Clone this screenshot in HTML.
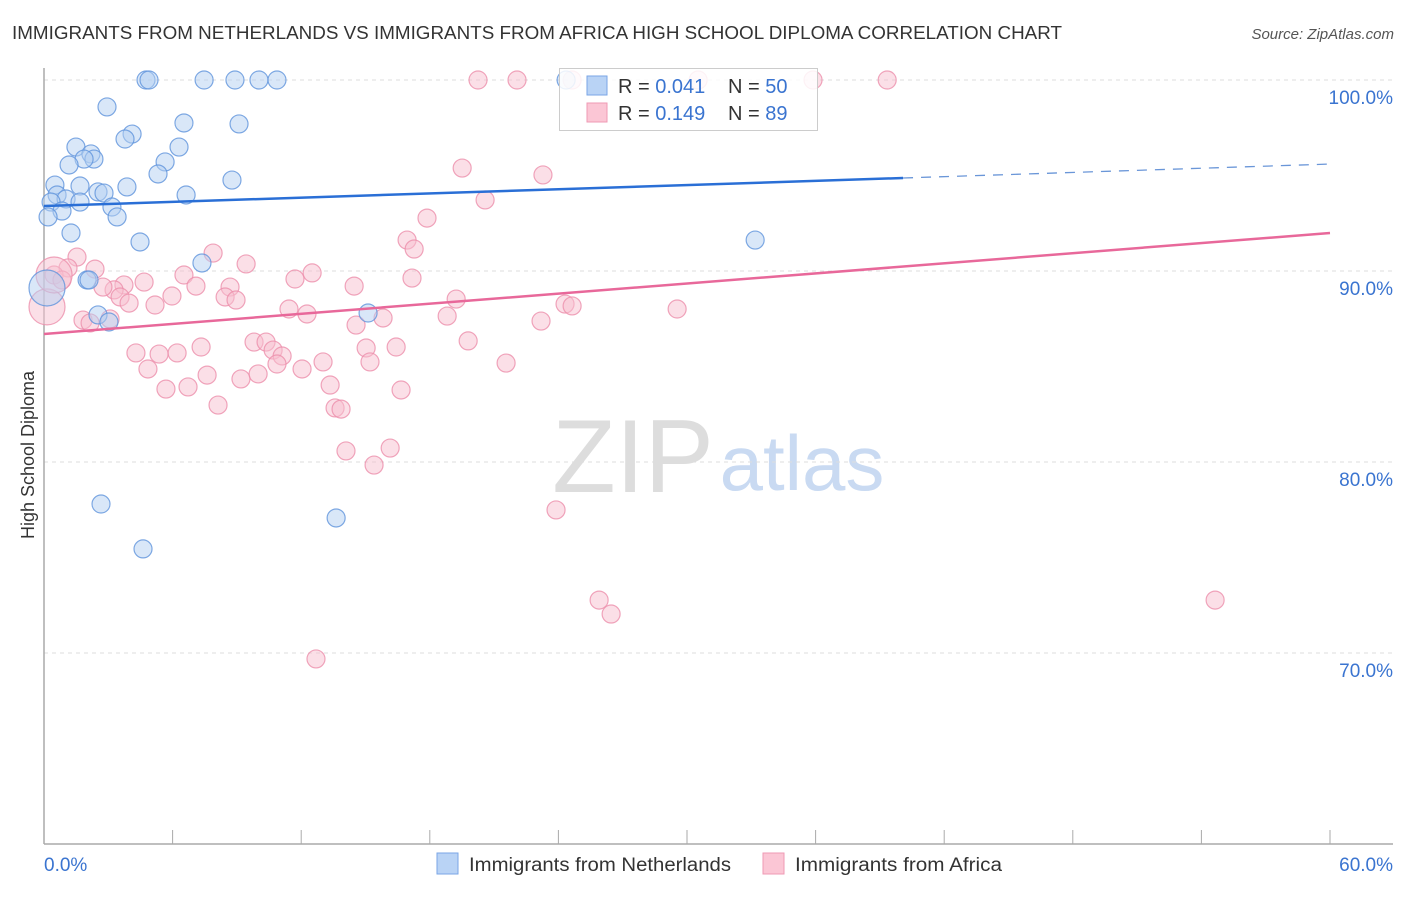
<!DOCTYPE html>
<html><head><meta charset="utf-8"><style>
body{margin:0;background:#fff;font-family:"Liberation Sans",sans-serif;}
svg text{font-family:"Liberation Sans",sans-serif;}
</style></head><body>
<svg id="chart" width="1406" height="892" xmlns="http://www.w3.org/2000/svg">
<text x="12" y="39" font-size="18" fill="#333" textLength="1050" lengthAdjust="spacingAndGlyphs">IMMIGRANTS FROM NETHERLANDS VS IMMIGRANTS FROM AFRICA HIGH SCHOOL DIPLOMA CORRELATION CHART</text>
<text x="1394" y="39" font-size="15" fill="#555" font-style="italic" text-anchor="end">Source: ZipAtlas.com</text>
<g>
<text x="633" y="492" font-size="104" fill="#ddd" font-family="Liberation Serif" text-anchor="middle">ZIP</text>
<text x="802" y="490" font-size="78" fill="#c9daf2" text-anchor="middle">atlas</text>
</g>
<g id="grid"></g><g id="axes"></g><g id="marks"></g><g id="trends"></g>
<g>
<rect x="559.5" y="68.5" width="258" height="62" fill="#fff" fill-opacity="0.85" stroke="#ccc"/>
<rect x="587" y="76" width="20" height="19" fill="#b9d3f5" stroke="#7aa6e6"/>
<rect x="587" y="103" width="20" height="19" fill="#fbc6d5" stroke="#ef9ab4"/>
<text x="618" y="93" font-size="20" fill="#333">R = <tspan fill="#3a74d0">0.041</tspan></text>
<text x="728" y="93" font-size="20" fill="#333">N = <tspan fill="#3a74d0">50</tspan></text>
<text x="618" y="120" font-size="20" fill="#333">R =  <tspan fill="#3a74d0">0.149</tspan></text>
<text x="728" y="120" font-size="20" fill="#333">N =  <tspan fill="#3a74d0">89</tspan></text>
</g>
<text transform="translate(34,455) rotate(-90)" font-size="18" fill="#333" text-anchor="middle">High School Diploma</text>
<g>
<rect x="437" y="853" width="21" height="21" fill="#b9d3f5" stroke="#7aa6e6"/>
<text x="469" y="871" font-size="19" fill="#333" textLength="262" lengthAdjust="spacingAndGlyphs">Immigrants from Netherlands</text>
<rect x="763" y="853" width="21" height="21" fill="#fbc6d5" stroke="#ef9ab4"/>
<text x="795" y="871" font-size="19" fill="#333" textLength="207" lengthAdjust="spacingAndGlyphs">Immigrants from Africa</text>
</g>
</svg>
<script>
const yTicks=[100,90,80,70];
const yTickLabels=["100.0%","90.0%","80.0%","70.0%"];
const xEndLabels=["0.0%","60.0%"];
const blueX=[4.76,4.9,7.47,8.91,10.03,10.87,24.36,2.94,4.11,3.78,6.53,9.10,1.49,2.19,2.33,1.87,6.30,5.65,1.17,5.32,8.77,0.51,1.68,3.87,2.52,2.80,6.63,0.61,1.03,1.68,0.33,3.17,0.84,3.41,0.19,1.26,4.48,33.18,7.37,2.01,2.10,0.14,15.12,2.52,3.03,2.66,13.63,4.62];
const blueY=[100,100,100,100,100,100,100,98.59,97.17,96.91,97.75,97.70,96.49,96.13,95.86,95.86,96.49,95.71,95.55,95.08,94.76,94.50,94.45,94.40,94.14,94.08,93.98,93.98,93.77,93.61,93.61,93.35,93.14,92.83,92.83,91.99,91.52,91.62,90.42,89.53,89.53,89.11,87.80,87.70,87.33,77.80,77.07,75.45];
const blueBig=[0,0,0,0,0,0,0,0,0,0,0,0,0,0,0,0,0,0,0,0,0,0,0,0,0,0,0,0,0,0,0,0,0,0,0,0,0,0,0,0,0,1,0,0,0,0,0,0];
const pinkX=[20.25,22.07,24.64,30.52,35.88,39.34,19.51,23.28,20.58,17.87,16.94,17.27,7.89,9.43,1.54,1.12,2.38,6.53,12.51,11.71,17.17,0.47,0.84,4.67,3.73,3.27,7.09,8.68,14.47,2.75,3.55,5.18,3.97,5.97,8.45,8.96,19.23,11.43,12.27,18.81,23.19,24.31,24.64,29.54,15.82,14.56,1.82,2.15,3.08,7.33,9.80,10.36,10.69,11.11,15.03,16.43,19.79,4.29,5.37,6.21,10.87,13.02,15.21,21.56,4.85,12.04,7.61,9.19,9.99,5.69,6.72,13.35,16.66,8.12,13.58,13.86,14.09,15.40,16.15,23.89,25.90,26.46,54.64,12.69,0.14,0.47];
const pinkY=[100,100,100,100,100,100,95.39,95.03,93.72,92.77,91.62,91.15,90.94,90.37,90.73,90.16,90.10,89.79,89.90,89.58,89.63,89.79,89.53,89.42,89.27,89.01,89.21,89.16,89.21,89.16,88.64,88.22,88.32,88.69,88.64,88.48,88.53,88.01,87.75,87.64,87.38,88.27,88.17,88.01,87.54,87.17,87.43,87.28,87.49,86.02,86.28,86.28,85.86,85.55,85.97,86.02,86.34,85.71,85.65,85.71,85.13,85.24,85.24,85.18,84.87,84.87,84.55,84.35,84.61,83.82,83.93,84.03,83.77,82.98,82.83,82.77,80.58,79.84,80.73,77.49,72.77,72.04,72.77,69.69,88.12,89.79];
const pinkBig=pinkX.map((_,i)=>i>=pinkX.length-2?1:0);
const blueTrend=[93.40,95.60];const blueSolidEnd=40.08;
const pinkTrend=[86.70,91.99];
const NS="http://www.w3.org/2000/svg";
const sx=v=>44+v*(1286/60);
const sy=v=>80+(100-v)*19.1;
function mk(tag,attrs,parent){const e=document.createElementNS(NS,tag);for(const k in attrs)e.setAttribute(k,attrs[k]);document.getElementById(parent).appendChild(e);return e;}
yTicks.forEach((t,i)=>{
 const l=mk('line',{x1:44,x2:1393,y1:sy(t),y2:sy(t),stroke:'#ddd','stroke-dasharray':'4,4'},'grid');
 
 
 const tx=mk('text',{x:1393,y:sy(t)+24,'font-size':19,fill:'#3a74d0','text-anchor':'end'},'grid');
 tx.textContent=yTickLabels[i];
 
 
});
let a=mk('line',{x1:44,x2:44,y1:68,y2:844,stroke:'#aaa','stroke-width':1.5},'axes');


a=mk('line',{x1:44,x2:1393,y1:844,y2:844,stroke:'#aaa','stroke-width':1.5},'axes');


for(let i=1;i<=10;i++){const t=mk('line',{x1:sx(i*6),x2:sx(i*6),y1:830,y2:844,stroke:'#aaa'},'axes');
 
 }
[[0,'start',44],[60,'end',1393]].forEach((d,i)=>{const t=mk('text',{x:d[2],y:871,'font-size':19,fill:'#3a74d0','text-anchor':d[1]},'axes');t.textContent=xEndLabels[i];
 
 });
function pts(X,Y,B,fill,stroke,name){X.forEach((x,i)=>{const c=mk('circle',{cx:sx(x),cy:sy(Y[i]),r:B[i]?18:9,fill:fill,'fill-opacity':0.5,stroke:stroke,'stroke-width':1.2,'stroke-opacity':0.8},'marks');
 
 });}
pts(pinkX,pinkY,pinkBig,'#f8bfd0','#ec8fab','africa-point');
pts(blueX,blueY,blueBig,'#b3cff2','#5f93dc','netherlands-point');
const yb=x=>blueTrend[0]+(blueTrend[1]-blueTrend[0])*x/60;
let t=mk('line',{x1:sx(0),y1:sy(yb(0)),x2:sx(blueSolidEnd),y2:sy(yb(blueSolidEnd)),stroke:'#2a6fd6','stroke-width':2.5},'trends');


t=mk('line',{x1:sx(blueSolidEnd),y1:sy(yb(blueSolidEnd)),x2:sx(60),y2:sy(yb(60)),stroke:'#6a96d8','stroke-width':1.3,'stroke-dasharray':'10,8'},'trends');


t=mk('line',{x1:sx(0),y1:sy(pinkTrend[0]),x2:sx(60),y2:sy(pinkTrend[1]),stroke:'#e8689a','stroke-width':2.5},'trends');


</script>
</body></html>
